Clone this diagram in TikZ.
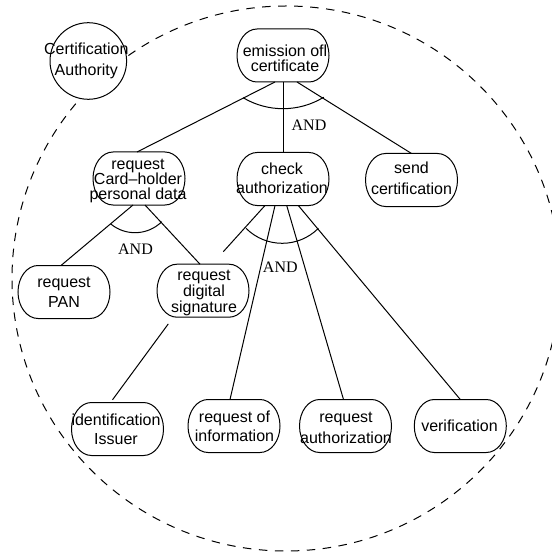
\documentclass[tikz,border=0pt]{standalone}
\usepackage{fontspec}
\newfontfamily\sfarial{Liberation Sans}
\newfontfamily\serifT{Liberation Serif}
\tikzset{
  stadiumbox/.style={minimum width=92pt, minimum height=53pt, inner sep=0pt, outer sep=0pt},
  stadiumline/.style={draw=black, fill=white, line width=1pt},
  boxtext/.style={font=\sfarial\fontsize{16}{#1}\selectfont, align=center, inner sep=0pt},
  andlabel/.style={font=\serifT\fontsize{16}{19}\selectfont, inner sep=0pt},
  link/.style={draw=black, line width=1pt},
  andarc/.style={draw=black, line width=1pt},
  frontier/.style={draw=black, line width=1pt, dash pattern=on 8.5pt off 7.5pt},
}
% #1 name, #2 centre, #3 baselineskip, #4 text shift, #5 text
\newcommand\stadiumnode[5]{%
  \filldraw[stadiumline, shift={(#2)}] (-26,-26.5) -- (26,-26.5)
    arc[start angle=-90, end angle=90, x radius=20, y radius=26.5]
    -- (-26,26.5)
    arc[start angle=90, end angle=270, x radius=20, y radius=26.5] -- cycle;
  \node[stadiumbox, label={[boxtext=#3, #4]center:{#5}}] (#1) at (#2) {};
}
\begin{document}
\begin{tikzpicture}[x=1pt, y=-1pt]
\useasboundingbox (0,0) rectangle (551,553);

% boundary
\draw[frontier] (286,278.5) ellipse[x radius=274, y radius=272.5];

% actor
\node[circle, stadiumline, minimum size=76.6pt, inner sep=0pt,
      label={[boxtext=20.7, xshift=-2pt, yshift=0.4pt]center:{Certification\\Authority}}]
      (ca) at (88.3,61) {};

% goals
\stadiumnode{emission}{283,55.5}{15}{xshift=2pt, yshift=-3pt}{emission ofl\\certificate}
\stadiumnode{reqcard}{139,178.5}{15}{xshift=-1pt, yshift=-2pt}{request\\Card\textendash holder\\personal data}
\stadiumnode{check}{283,179}{19.3}{xshift=-1pt, yshift=1pt}{check\\authorization}
\stadiumnode{send}{411.5,180}{21}{yshift=1.25pt}{send\\certification}
\stadiumnode{pan}{64,292}{19.8}{xshift=0pt}{request\\PAN}
\stadiumnode{digsig}{203,290.7}{14.7}{xshift=1pt, yshift=-2pt}{request\\digital\\signature}
\stadiumnode{ident}{117.5,429}{19}{xshift=-1.5pt}{identification\\Issuer}
\stadiumnode{reqinfo}{234,426}{19}{xshift=0.5pt, yshift=-0.5pt}{request of\\information}
\stadiumnode{reqauth}{345.5,426}{20.6}{xshift=0.5pt, yshift=-1.7pt}{request\\authorization}
\stadiumnode{verif}{460.3,426}{19}{xshift=-0.8pt}{verification}

% free end of the dangling link
\coordinate (dangle) at (223.3,251.7);

% connectors
\draw[link] ([xshift=-8pt]emission.south) -- ([xshift=-2pt]reqcard.north);
\draw[link] (emission.south) -- (check.north);
\draw[link] ([xshift=14pt]emission.south) -- (send.north);

\draw[link] ([xshift=-6pt]reqcard.south) -- ([xshift=-3pt]pan.north);
\draw[link] ([xshift=6pt]reqcard.south) -- ([xshift=-3pt]digsig.north);

\draw[link] ([xshift=-34.7pt, yshift=-6.7pt]digsig.south) -- ([xshift=-5pt, yshift=2.7pt]ident.north);

\draw[link] ([xshift=-18pt]check.south) -- (dangle);
\draw[link] ([xshift=-8pt]check.south) -- ([xshift=-4pt]reqinfo.north);
\draw[link] ([xshift=3.7pt]check.south) -- ([xshift=-2pt]reqauth.north);
\draw[link] ([xshift=15.3pt]check.south) -- (verif.north);

% AND arcs
\draw[andarc] ([shift={(58.5:78)}]283,30.7) arc[start angle=58.5, end angle=120.8, radius=78];
\draw[andarc] ([shift={(45.3:38.1)}]135,194.6) arc[start angle=45.3, end angle=129.5, radius=38.1];
\draw[andarc] ([shift={(45:51.2)}]282.2,192.1) arc[start angle=45, end angle=135, radius=51.2];

% AND labels
\node[andlabel] (and1) at (309,125) {AND};
\node[andlabel] (and2) at (135.5,249.7) {AND};
\node[andlabel] (and3) at (280.3,267) {AND};
\end{tikzpicture}
\end{document}
